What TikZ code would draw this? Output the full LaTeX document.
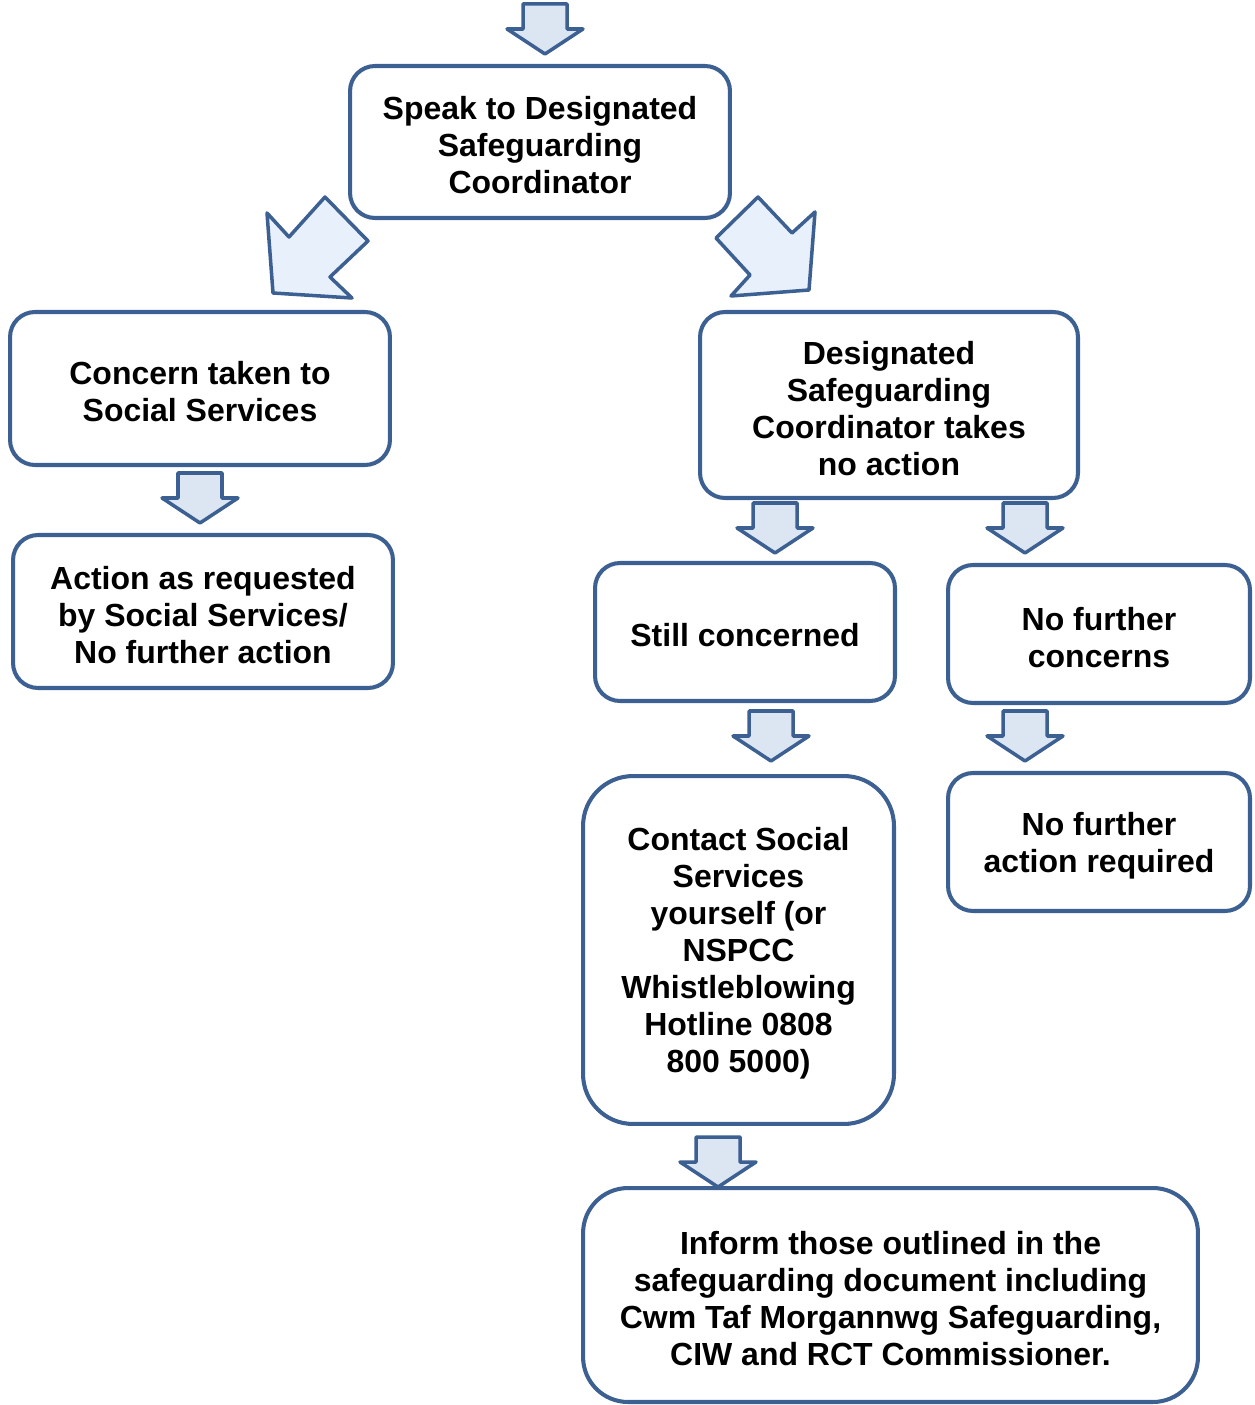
\documentclass[tikz,border=0pt]{standalone}
\usepackage{fontspec}
\setmainfont{Liberation Sans}
\definecolor{bord}{RGB}{60,96,145}
\definecolor{afill}{RGB}{220,230,242}
\definecolor{dfill}{RGB}{232,241,251}
\newcommand\blkdown[2]{%
  \draw[blkarrow] ({#1-22},{#2}) -- ({#1+22},{#2}) -- ({#1+22},{#2+25}) -- ({#1+38},{#2+25})
    -- ({#1},{#2+50}) -- ({#1-38},{#2+25}) -- ({#1-22},{#2+25}) -- cycle;}
\begin{document}
\begin{tikzpicture}[x=0.02cm,y=-0.02cm,
  box/.style={draw=bord, line width=2.3pt, fill=white, align=center,
    font=\bfseries\fontsize{18.2}{21}\selectfont, inner sep=0pt, rounded corners=0.5cm},
  blkarrow/.style={draw=bord, line width=2pt, fill=afill, line join=round},
  diagarrow/.style={draw=bord, line width=2pt, fill=dfill, line join=round}]
\useasboundingbox (0,0) rectangle (1254,1405);

\node[box, minimum width=7.6cm, minimum height=3.04cm] (speak) at (540,142)
  {\rule{0pt}{17pt}Speak to Designated\\Safeguarding\\Coordinator};
\node[box, minimum width=7.6cm, minimum height=3.06cm] (concern) at (200,388.5)
  {\rule{0pt}{17pt}Concern taken to\\Social Services};
\node[box, minimum width=7.6cm, minimum height=3.06cm] (action) at (203,611.5)
  {\rule{0pt}{17pt}Action as requested\\by Social Services/\\No further action};
\node[box, minimum width=7.56cm, minimum height=3.72cm] (desig) at (889,405)
  {\rule{0pt}{17pt}Designated\\Safeguarding\\Coordinator takes\\no action};
\node[box, minimum width=6cm, minimum height=2.76cm] (still) at (745,632)
  {\rule{0pt}{17pt}Still concerned};
\node[box, minimum width=6.04cm, minimum height=2.76cm] (nfc) at (1099,634)
  {\rule{0pt}{17pt}No further\\concerns};
\node[box, minimum width=6.22cm, minimum height=6.96cm, rounded corners=1cm] (contact) at (738.5,950)
  {\rule{0pt}{17pt}Contact Social\\Services\\yourself (or\\NSPCC\\Whistleblowing\\Hotline 0808\\800 5000)};
\node[box, minimum width=6.04cm, minimum height=2.76cm] (nfa) at (1099,842)
  {\rule{0pt}{17pt}No further\\action required};
\node[box, minimum width=12.3cm, minimum height=4.28cm, rounded corners=0.9cm] (inform) at (890.5,1295)
  {\rule{0pt}{17pt}Inform those outlined in the\\safeguarding document including\\Cwm Taf Morgannwg Safeguarding,\\CIW and RCT Commissioner.};

% block arrows
\blkdown{545}{4}
\blkdown{200}{473}
\blkdown{775}{503}
\blkdown{1025}{503}
\blkdown{771}{711}
\blkdown{1025}{711}
\blkdown{718}{1137}

% diagonal arrows
\draw[diagarrow] (325,197) -- (368,241) -- (330,277) -- (352,298) -- (273,293)
  -- (267,213) -- (289,237) -- cycle;
\draw[diagarrow] (758,197) -- (792,233) -- (815,212) -- (809,290) -- (731,296)
  -- (750,275) -- (716,238) -- cycle;
\end{tikzpicture}
\end{document}
